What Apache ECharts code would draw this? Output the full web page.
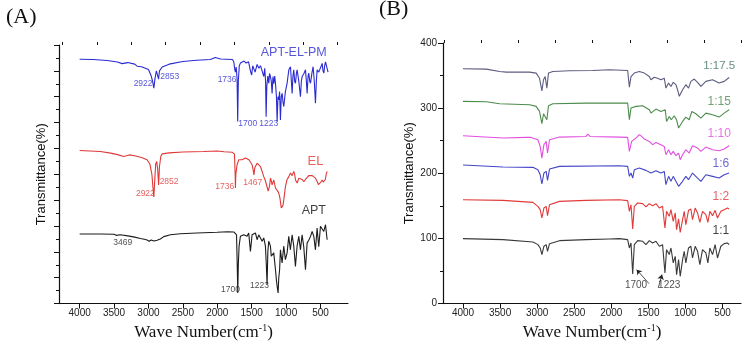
<!DOCTYPE html>
<html>
<head>
<meta charset="utf-8">
<script src="https://cdn.jsdelivr.net/npm/echarts@6/dist/echarts.min.js"></script>
<style>
  html, body { margin: 0; padding: 0; background: #fff; }
  #chart { width: 747px; height: 346px; }
</style>
</head>
<body>
<div id="chart"></div>
<script>
// ---- panel A : spectra, [wave number, transmittance (offset, arbitrary)] ----
const aptElPm = [[4000,94.5],[3800,94.4],[3600,94.0],[3450,93.4],[3383,92.8],[3300,93.2],[3200,92.6],[3165,91.8],[3100,91.6],[3000,90.5],[2960,88],[2940,86],[2922,83.3],[2905,87],[2885,90],[2870,89.5],[2853,86.8],[2840,90],[2800,91.5],[2700,92.6],[2500,93.6],[2300,94.1],[2100,94.4],[2029,95.2],[1950,94.6],[1780,94.4],[1760,93.5],[1745,90.5],[1736,89.5],[1725,91.5],[1712,87],[1703,70.4],[1694,86],[1680,92],[1663,93],[1640,92.5],[1610,93.8],[1580,93],[1545,93.5],[1518,90],[1500,88.4],[1485,92],[1469,91.5],[1450,89.5],[1421,92.5],[1395,91],[1372,92],[1348,90],[1324,87.8],[1310,91],[1298,86],[1290,72.3],[1280,84],[1265,88],[1251,85.2],[1240,89],[1227,87.8],[1215,86],[1203,81.3],[1190,87.8],[1178,85],[1165,88],[1154,85.2],[1140,80],[1130,70.4],[1118,80],[1106,78.8],[1094,82],[1082,71],[1070,80],[1057,81.3],[1045,78],[1033,76.2],[1010,82],[985,85.2],[960,90.4],[936,91.6],[912,81.3],[900,88],[888,90.4],[875,86],[863,85.2],[850,89],[839,90.4],[815,86],[791,80],[778,86],[766,87.8],[740,89],[718,90.4],[705,86],[694,81.3],[680,88],[670,89.1],[655,86],[645,85.2],[625,89],[607,91.6],[590,86],[573,77.5],[560,86],[548,90.4],[525,89.5],[500,89.1],[488,92],[476,92.9],[463,90],[451,89.1],[439,92],[427,93.5],[415,94.2],[403,94.2],[390,89.5]];
const el = [[4000,59.2],[3700,58.8],[3550,58.2],[3450,57.6],[3360,56.9],[3280,57.5],[3200,57.2],[3100,56.5],[3020,55.6],[2980,54],[2950,50],[2935,45],[2922,41.2],[2910,47],[2895,54],[2880,55],[2866,52],[2852,45.9],[2840,53],[2820,57],[2800,57.9],[2700,58.3],[2500,58.6],[2200,58.8],[2000,59.0],[1900,58.7],[1780,58.5],[1750,57.8],[1740,50],[1736,44.7],[1730,50],[1712,53.7],[1687,55.6],[1640,55.6],[1590,56.3],[1540,55.6],[1494,53.7],[1480,52],[1467,49.8],[1455,52.5],[1445,53],[1421,54.3],[1396,53.8],[1372,53],[1348,51.1],[1324,49.1],[1300,47.5],[1260,43.5],[1240,45.5],[1227,48.5],[1215,47.5],[1203,45.9],[1178,47.8],[1154,44.7],[1130,45],[1110,43],[1090,41],[1070,37],[1057,36.3],[1045,38],[1033,40.2],[1009,45.3],[985,48],[960,49.1],[936,50.5],[912,49.5],[888,51.1],[875,50],[863,47.8],[839,46.6],[815,48.5],[791,49.1],[766,48],[742,47.2],[718,48],[694,48.5],[670,49.5],[645,49.8],[620,49.5],[597,49.1],[573,48.5],[548,47.2],[530,46],[514,45.3],[495,47],[476,47.8],[460,47],[442,46.6],[430,48],[413,50.5],[400,51.1]];
const apt = [[4000,26.9],[3700,26.9],[3500,26.8],[3469,26.4],[3408,26.6],[3300,26.2],[3200,25.7],[3117,25.2],[3060,24.9],[3020,24.6],[2990,24.1],[2960,24.6],[2920,24.2],[2875,24.5],[2850,24.0],[2827,25.0],[2778,25.9],[2681,26.6],[2536,27.0],[2294,27.3],[2003,27.6],[1850,27.8],[1760,27.7],[1736,27.6],[1720,26.6],[1710,15],[1702,4.1],[1694,15],[1683,22.2],[1664,26.0],[1615,26.6],[1567,26.0],[1543,27.3],[1518,20.2],[1494,26.6],[1470,26.0],[1445,27.3],[1421,24.7],[1397,26.6],[1372,26.0],[1348,24.1],[1324,25.4],[1300,22.2],[1287,15],[1276,7.3],[1265,20],[1252,24.1],[1227,22.2],[1215,18.3],[1203,18.3],[1179,19.6],[1154,13.1],[1140,9],[1130,6.7],[1116,4.1],[1106,10],[1094,13.1],[1082,20.8],[1058,15.7],[1034,22.2],[1010,17],[985,19.6],[961,26.0],[937,20.8],[912,26.6],[888,22.2],[864,14.4],[840,22.2],[815,26.0],[791,20.8],[767,26.6],[743,22],[718,13.1],[694,23.5],[670,24.5],[645,26.0],[621,27.9],[597,26],[573,20.8],[549,29.2],[525,22],[500,29.9],[476,30.5],[452,27.9],[427,30.5],[410,30],[403,24.7]];

// peak labels: [wave number, value, text]
const peaksApElPm = [[3078,84.9,'2922'],[2690,87.8,'2853'],[1857,86.5,'1736'],[1557,69.4,'1700'],[1252,69.4,'1223']];
const peaksEl = [[3045,42.7,'2922'],[2700,47.0,'2852'],[1892,45.1,'1736'],[1484,46.7,'1467']];
const peaksApt = [[3375,23.4,'3469'],[1809,5.4,'1700'],[1387,7.1,'1223']];
const namesA = [[888,97.2,'APT-EL-PM'],[573,54.9,'EL'],[597,36.0,'APT']];

// ---- panel B : spectra by ratio ----
const r175 = [[4000,360.4],[3686,359.9],[3506,356.3],[3416,355.3],[3102,355.3],[3013,353.8],[2968,346],[2936,326.6],[2914,343.6],[2892,348.5],[2869,330.8],[2847,353.8],[2788,356.3],[2564,357.3],[2250,357.8],[2025,358.9],[1779,357.8],[1756,332.2],[1734,348.5],[1689,353.8],[1622,356.3],[1554,353.8],[1487,348.5],[1465,343.6],[1420,347.5],[1375,346],[1330,343.6],[1285,346],[1263,330.8],[1227,338.5],[1195,333.3],[1164,339.6],[1128,336],[1106,328.3],[1083,318.1],[1061,317.1],[1038,328.3],[994,336],[958,330.8],[926,341.1],[881,344.7],[836,339.6],[791,333.3],[724,341.1],[634,343.6],[545,338.5],[477,341.1],[410,347]];
const r15 = [[4000,310.4],[3686,309.9],[3506,306.8],[3102,305.2],[3013,302.7],[2968,295.0],[2936,276.1],[2914,291.4],[2892,293],[2869,282.2],[2847,303.7],[2788,306.8],[2340,307.7],[1779,307.7],[1756,282.2],[1734,300.1],[1667,302.7],[1577,303.7],[1487,297.5],[1465,292.4],[1397,298.6],[1330,295.0],[1272,297.5],[1254,279.6],[1218,287.3],[1191,282.2],[1151,288.3],[1119,282.2],[1092,269.4],[1070,266.9],[1038,279.6],[994,286.3],[949,282.2],[913,295.0],[859,291.4],[791,284.7],[724,292.4],[634,289.9],[545,286.3],[477,292.4],[410,297.5]];
const r10 = [[4000,257.7],[3461,254.1],[3147,255.1],[3125,257.7],[3080,255.1],[2990,251.5],[2959,241.3],[2936,223.4],[2909,243.9],[2878,249.0],[2860,231.1],[2833,251.5],[2699,255.6],[2340,256.6],[2317,260.2],[2286,256.6],[1891,255.6],[1779,255.1],[1756,233.6],[1725,249.0],[1667,254.1],[1622,259.2],[1590,256.6],[1554,252.5],[1487,249.0],[1442,243.9],[1397,247.4],[1330,243.9],[1285,241.3],[1263,228.5],[1227,236.2],[1195,228.5],[1164,233.6],[1128,227.0],[1092,231.1],[1070,220.9],[1038,228.5],[994,236.2],[949,231.1],[904,242.3],[836,238.8],[791,233.6],[724,240.3],[634,236.2],[545,234.7],[477,237.2],[410,242.3]];
const r6 = [[4000,212.7],[3461,209.6],[3057,209.1],[2990,205.5],[2959,197.8],[2936,183.6],[2909,200.4],[2878,202.9],[2860,189.2],[2833,206.5],[2699,210.6],[1891,211.7],[1779,210.6],[1756,195.3],[1734,200.4],[1711,192.7],[1689,205.5],[1622,208.1],[1532,204.5],[1465,200.4],[1397,203.9],[1330,200.4],[1285,202.9],[1263,182.6],[1227,195.3],[1195,187.7],[1164,195.3],[1128,187.7],[1092,180.0],[1070,177.5],[1038,187.7],[994,195.3],[958,190.2],[904,200.4],[836,192.7],[791,187.7],[724,197.8],[634,195.3],[545,192.7],[477,197.8],[410,200.4]];
const r2 = [[4000,159.5],[3461,158.5],[3057,155.4],[2990,149.3],[2959,144.2],[2936,131.4],[2909,146.7],[2878,149.3],[2860,135.0],[2833,151.8],[2699,156.9],[2340,158.5],[1891,159.5],[1779,158.0],[1756,141.6],[1734,151.8],[1711,114.5],[1689,149.3],[1644,154.4],[1577,153.4],[1532,148.3],[1487,153.4],[1442,150.3],[1397,153.4],[1352,146.7],[1308,149.3],[1276,116.1],[1254,141.6],[1218,134.0],[1195,144.2],[1164,126.3],[1137,139.1],[1119,113.5],[1092,129.9],[1070,109.4],[1038,128.8],[1016,141.6],[994,121.2],[958,143.2],[926,145.2],[904,128.8],[868,146.7],[836,139.1],[805,124.7],[769,141.6],[724,136.5],[697,124.7],[670,141.6],[634,135.0],[599,143.2],[567,131.4],[522,141.6],[477,144.2],[433,146.7],[410,145.2]];
const r1 = [[4000,99.7],[3461,98.2],[3057,94.6],[2990,90.5],[2959,85.4],[2936,75.2],[2909,88.0],[2878,90.5],[2860,80.3],[2833,92.0],[2699,96.6],[2340,98.2],[2025,99.2],[1891,99.7],[1779,98.2],[1756,85.4],[1734,93.1],[1711,45.5],[1689,90.5],[1644,96.6],[1577,95.6],[1532,90.5],[1487,96.6],[1442,93.1],[1397,95.6],[1352,88.0],[1308,90.5],[1276,47.0],[1254,82.8],[1218,75.2],[1195,85.4],[1164,62.4],[1137,72.6],[1119,44.5],[1092,67.5],[1070,41.9],[1038,67.5],[1016,80.3],[994,62.4],[958,85.4],[926,88.0],[904,70.0],[868,88.0],[836,80.3],[805,59.8],[769,82.8],[724,77.7],[697,62.4],[670,85.4],[634,75.2],[599,90.5],[567,70.0],[522,88.0],[477,92.0],[433,93.1],[410,90.5]];

const namesB = [[545,365.5,'1:17.5'],[545,310.3,'1:15'],[545,260.3,'1:10'],[522,214.7,'1:6'],[522,164.6,'1:2'],[522,112,'1:1']];
const peaksB = [[1666,27.6,'1700'],[1218,27.6,'1223']];
const arrowsB = [[[1491,30.7],[1658,52.1]],[[1366,24.1],[1316,44.5]]];

// ---- axes ticks ----
const waveLabels = [4000, 3500, 3000, 2500, 2000, 1500, 1000, 500];
const waveMinor = [4250, 3750, 3250, 2750, 2250, 1750, 1250, 750, 250];

const sans = "'Liberation Sans', Arial, sans-serif";
const serif = "'Liberation Serif', 'Times New Roman', serif";
const ink = '#111';

const chart = echarts.init(document.getElementById('chart'));

function waveAxis(grid, min, max) {
    return [{
        gridIndex: grid, type: 'value', min: min, max: max, inverse: true,
        axisLine: { lineStyle: { color: ink, width: 1.2 } },
        axisTick: { length: 5, customValues: waveLabels, lineStyle: { color: ink } },
        axisLabel: { customValues: waveLabels, fontSize: 10, color: '#222', fontFamily: sans, margin: 5, formatter: v => String(v) },
        splitLine: { show: false },
        // serif name drawn through a rich block
        name: '{t|Wave Number(cm}{s|-1}{t|)}', nameLocation: 'middle', nameGap: 19,
        nameTextStyle: {
            rich: {
                t: { fontFamily: serif, fontSize: 17, color: ink },
                s: { fontFamily: serif, fontSize: 10, color: ink, padding: [0, 0, 8, 0] }
            }
        }
    }, {
        gridIndex: grid, type: 'value', min: min, max: max, inverse: true,
        axisLine: { show: false },
        axisTick: { length: 3, customValues: waveMinor, lineStyle: { color: ink } },
        axisLabel: { show: false },
        splitLine: { show: false }
    }];
}

const line = (data, color, xi, yi, extra) => Object.assign({
    type: 'line', data: data, xAxisIndex: xi, yAxisIndex: yi,
    showSymbol: false, silent: true, animation: false,
    lineStyle: { width: 1.1, color: color }
}, extra || {});

const tags = (list, color, size, xi, yi) => ({
    type: 'scatter', xAxisIndex: xi, yAxisIndex: yi, symbolSize: 0,
    silent: true, animation: false,
    data: list.map(t => ({ value: [t[0], t[1]], name: t[2] })),
    label: {
        show: true, position: 'inside', formatter: '{b}',
        color: color, fontSize: size, fontFamily: sans
    }
});

const option = {
    animation: false,
    title: [
        { text: '(A)', left: 1, top: 1, textStyle: { fontFamily: serif, fontSize: 22, fontWeight: 'normal', color: ink } },
        { text: '(B)', left: 374, top: -7, textStyle: { fontFamily: serif, fontSize: 22, fontWeight: 'normal', color: ink } }
    ],
    grid: [
        { left: 59, top: 45, width: 289, height: 259 },
        { left: 443, top: 43, width: 298, height: 261 }
    ],
    xAxis: waveAxis(0, 100, 4300).concat(waveAxis(1, 250, 4270)),
    yAxis: [{
        gridIndex: 0, type: 'value', min: 0, max: 100, interval: 10,
        axisLine: { show: true, lineStyle: { color: ink, width: 1.2 } },
        axisTick: { show: true, length: 5, lineStyle: { color: ink } },
        minorTick: { show: true, splitNumber: 2, length: 3, lineStyle: { color: ink } },
        axisLabel: { show: false },
        splitLine: { show: false },
        name: 'Transmittance(%)', nameLocation: 'middle', nameGap: 11,
        nameTextStyle: { fontFamily: sans, fontSize: 13, color: ink }
    }, {
        gridIndex: 1, type: 'value', min: 0, max: 400, interval: 100,
        axisLine: { show: true, lineStyle: { color: ink, width: 1.2 } },
        axisTick: { show: true, length: 5, lineStyle: { color: ink } },
        minorTick: { show: true, splitNumber: 2, length: 3, lineStyle: { color: ink } },
        axisLabel: { fontSize: 10, color: '#222', fontFamily: sans, margin: 6 },
        splitLine: { show: false },
        name: 'Transmittance(%)', nameLocation: 'middle', nameGap: 22,
        nameTextStyle: { fontFamily: sans, fontSize: 13, color: ink }
    }],
    series: [
        line(aptElPm, '#2a2ad2', 0, 0),
        line(el, '#e03838', 0, 0),
        line(apt, '#1c1c1c', 0, 0),
        tags(peaksApElPm, '#2a2ad2', 8.5, 0, 0),
        tags(peaksEl, '#e03838', 8.5, 0, 0),
        tags(peaksApt, '#222', 8.5, 0, 0),
        tags(namesA.slice(0, 1), '#2a2ad2', 12.5, 0, 0),
        tags(namesA.slice(1, 2), '#e03838', 13, 0, 0),
        tags(namesA.slice(2), '#111', 12.5, 0, 0),

        line(r175, '#5c5c80', 2, 1),
        line(r15, '#4c8c4c', 2, 1),
        line(r10, '#e050e0', 2, 1),
        line(r6, '#4646c8', 2, 1),
        line(r2, '#e03a3a', 2, 1),
        line(r1, '#3a3a3a', 2, 1, {
            markLine: {
                silent: true, animation: false, symbol: ['none', 'arrow'], symbolSize: 5,
                lineStyle: { color: '#222', width: 0.8, type: 'solid' },
                label: { show: false },
                data: arrowsB.map(a => [{ coord: a[0] }, { coord: a[1] }])
            }
        }),
        tags(namesB.slice(0, 1), '#3c7062', 11.5, 2, 1),
        tags(namesB.slice(1, 2), '#4c8c4c', 12, 2, 1),
        tags(namesB.slice(2, 3), '#e050e0', 12, 2, 1),
        tags(namesB.slice(3, 4), '#4646c8', 12, 2, 1),
        tags(namesB.slice(4, 5), '#e03a3a', 12, 2, 1),
        tags(namesB.slice(5), '#111', 12, 2, 1),
        tags(peaksB, '#222', 10, 2, 1)
    ]
};

chart.setOption(option);
</script>
</body>
</html>
